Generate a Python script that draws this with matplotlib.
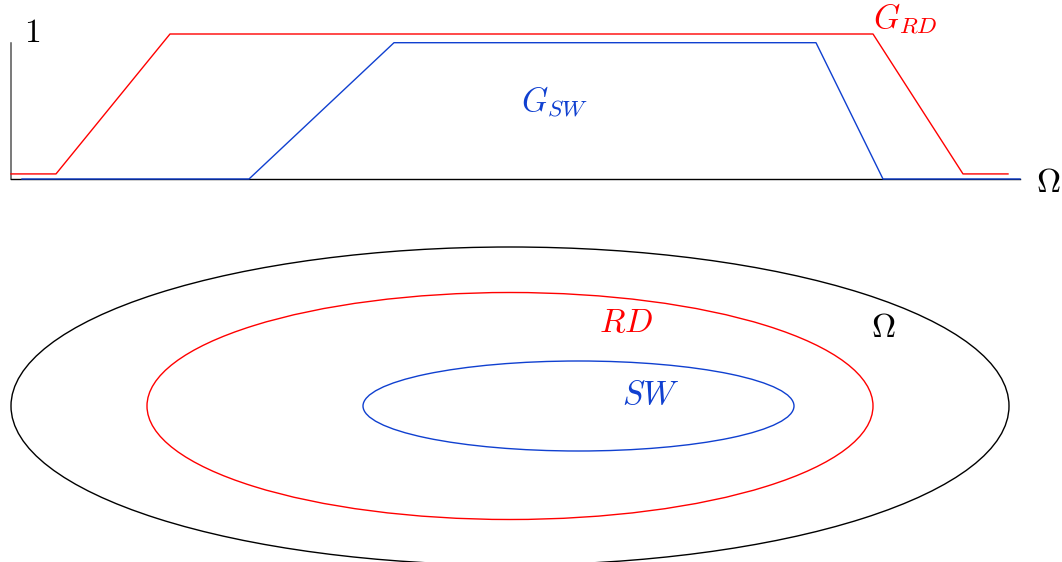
import matplotlib.pyplot as plt
from matplotlib.patches import Ellipse

plt.rcParams['mathtext.fontset'] = 'cm'
plt.rcParams['font.family'] = ['DejaVu Serif']

RED = '#ff0000'
BLUE = '#1040d0'

# top panel: gain curves over Omega (x in px, gain 0..1)
rd_x = [11, 56, 170, 873, 963, 1008]
rd_g = [0.035, 0.035, 1.0, 1.0, 0.035, 0.035]
sw_x = [22, 249, 394, 816, 883, 1020]
sw_g = [0.0, 0.0, 0.94, 0.94, 0.0, 0.0]

# bottom panel: nested domains (center x, center y, width, height)
dom_names = ['Omega', 'RD', 'SW']
dom_cx = [510, 510, 578.5]
dom_cy = [406, 406, 406]
dom_w = [998, 726, 431]
dom_h = [318, 227, 90]
dom_col = ['black', RED, BLUE]

base = 179
scale = 145


def gy(g):
    return [base - scale * v for v in g]


fig = plt.figure(figsize=(10.62, 5.62), dpi=100)
ax = fig.add_axes([0, 0, 1, 1])
ax.set_xlim(0, 1062)
ax.set_ylim(562, 0)
ax.axis('off')

# axes of the top plot
ax.plot([11, 11], [179, 43], color='#555555', lw=1.1)
ax.plot([11, 1020], [179, 179], color='black', lw=1.0)

ax.plot(rd_x, gy(rd_g), color=RED, lw=1.0)
ax.plot(sw_x, gy(sw_g), color=BLUE, lw=1.0)

fs = 24
ax.text(32, 33, r'$1$', fontsize=fs, ha='center', va='center')
ax.text(1048, 183, r'$\Omega$', fontsize=fs, ha='center', va='center')
ax.text(905, 19, r'$G_{RD}$', color=RED, fontsize=fs, ha='center', va='center')
ax.text(554, 102, r'$G_{SW}$', color=BLUE, fontsize=fs, ha='center', va='center')

for cx, cy, w, h, c in zip(dom_cx, dom_cy, dom_w, dom_h, dom_col):
    ax.add_patch(Ellipse((cx, cy), w, h, fill=False, edgecolor=c, lw=1.0))

ax.text(626, 323, r'$RD$', color=RED, fontsize=fs, ha='center', va='center')
ax.text(883, 328, r'$\Omega$', color='black', fontsize=fs, ha='center', va='center')
ax.text(651, 395, r'$SW$', color=BLUE, fontsize=fs, ha='center', va='center')

fig.savefig('out.png', dpi=100)
